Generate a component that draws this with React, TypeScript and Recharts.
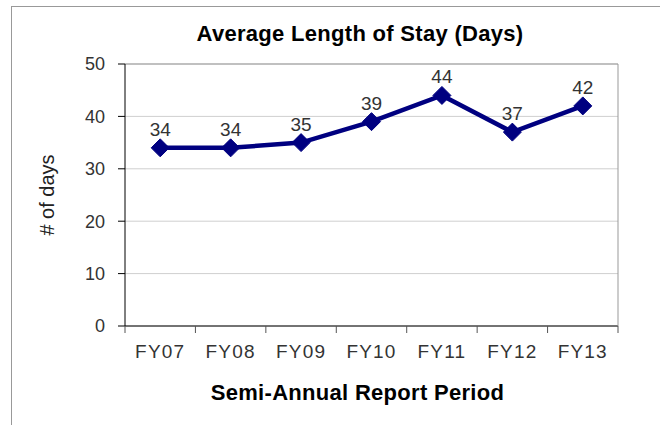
import { LineChart, Line, XAxis, YAxis, CartesianGrid, LabelList, Label, ReferenceLine } from 'recharts'

const periods = ['FY07', 'FY08', 'FY09', 'FY10', 'FY11', 'FY12', 'FY13']
const days = [34, 34, 35, 39, 44, 37, 42]
const yTicks = [0, 10, 20, 30, 40, 50]

const data = periods.map((p, i) => ({ period: p, days: days[i] }))

const FONT = '"Liberation Sans", Arial, Helvetica, sans-serif'
const NAVY = '#000080'

function Diamond(props: any) {
    const { cx, cy, index } = props
    if (cx == null || cy == null) return null
    const r = 9
    return (
        <path
            key={`d-${index}`}
            d={`M${cx},${cy - r} L${cx + r},${cy} L${cx},${cy + r} L${cx - r},${cy} Z`}
            fill={NAVY}
            stroke={NAVY}
        />
    )
}

function PeriodTick(props: any) {
    const { x, y, payload, index, visibleTicksCount } = props
    const half = payload && payload.offset ? payload.offset : 35
    const last = index === (visibleTicksCount ?? periods.length) - 1
    return (
        <g>
            <line x1={x - half} y1={y} x2={x - half} y2={y + 7} stroke="#555" />
            {last && <line x1={x + half} y1={y} x2={x + half} y2={y + 7} stroke="#555" />}
            <text x={x} y={y + 32} textAnchor="middle" fill="#333" fontSize={19} letterSpacing={1.2} fontFamily={FONT}>
                {payload.value}
            </text>
        </g>
    )
}

function YTitle(props: any) {
    const vb = props.viewBox
    const cx = vb.x + vb.width / 2 - 16
    const cy = vb.y + vb.height / 2
    return (
        <text
            x={cx}
            y={cy}
            transform={`rotate(-90, ${cx}, ${cy})`}
            textAnchor="middle"
            dominantBaseline="central"
            fill="#222"
            fontSize={20}
            fontFamily={FONT}
        >
            # of days
        </text>
    )
}

export default function App() {
    return (
        <div style={{ position: 'absolute', left: 0, top: 0, width: 660, height: 425, background: '#fff', fontFamily: FONT }}>
            <div
                style={{
                    position: 'absolute',
                    left: 11,
                    top: 6,
                    width: 660,
                    height: 430,
                    borderLeft: '1px solid #999',
                    borderTop: '1px solid #999',
                }}
            />
            <div
                style={{
                    position: 'absolute',
                    left: 0,
                    width: 720,
                    top: 23,
                    lineHeight: '22px',
                    fontSize: 22,
                    letterSpacing: 0.3,
                    fontWeight: 'bold',
                    textAlign: 'center',
                    color: '#000',
                }}
            >
                Average Length of Stay (Days)
            </div>
            <div style={{ position: 'absolute', left: 0, top: 0 }}>
                <LineChart width={660} height={425} data={data} margin={{ top: 64, right: 41, bottom: 69, left: 0 }}>
                    <CartesianGrid horizontal vertical={false} stroke="#cfcfcf" yAxisId="left" />
                    <XAxis
                        dataKey="period"
                        scale="band"
                        height={30}
                        axisLine={{ stroke: '#000' }}
                        tickLine={false}
                        tickSize={0}
                        tickMargin={0}
                        interval={0}
                        tick={<PeriodTick />}
                    >
                        <Label
                            value="Semi-Annual Report Period"
                            position="bottom"
                            offset={28}
                            dx={-14}
                            fill="#000"
                            fontSize={22}
                            fontWeight="bold"
                            letterSpacing={0.3}
                            fontFamily={FONT}
                        />
                    </XAxis>
                    <YAxis
                        yAxisId="left"
                        width={125}
                        domain={[0, 50]}
                        ticks={yTicks}
                        axisLine={{ stroke: '#000' }}
                        tickLine={{ stroke: '#000' }}
                        tickSize={7}
                        tickMargin={13}
                        tick={{ fill: '#333', fontSize: 18, fontFamily: FONT }}
                        label={<YTitle />}
                    />
                    <YAxis
                        yAxisId="right"
                        orientation="right"
                        width={1}
                        domain={[0, 50]}
                        tick={false}
                        tickLine={false}
                        axisLine={{ stroke: '#999' }}
                    />
                    <ReferenceLine yAxisId="left" y={50} stroke="#999" />
                    <Line
                        yAxisId="left"
                        type="linear"
                        dataKey="days"
                        stroke={NAVY}
                        strokeWidth={4.5}
                        dot={<Diamond />}
                        activeDot={false}
                        isAnimationActive={false}
                    >
                        <LabelList dataKey="days" position="top" offset={12} fill="#333" fontSize={19} fontFamily={FONT} />
                    </Line>
                </LineChart>
            </div>
        </div>
    )
}
